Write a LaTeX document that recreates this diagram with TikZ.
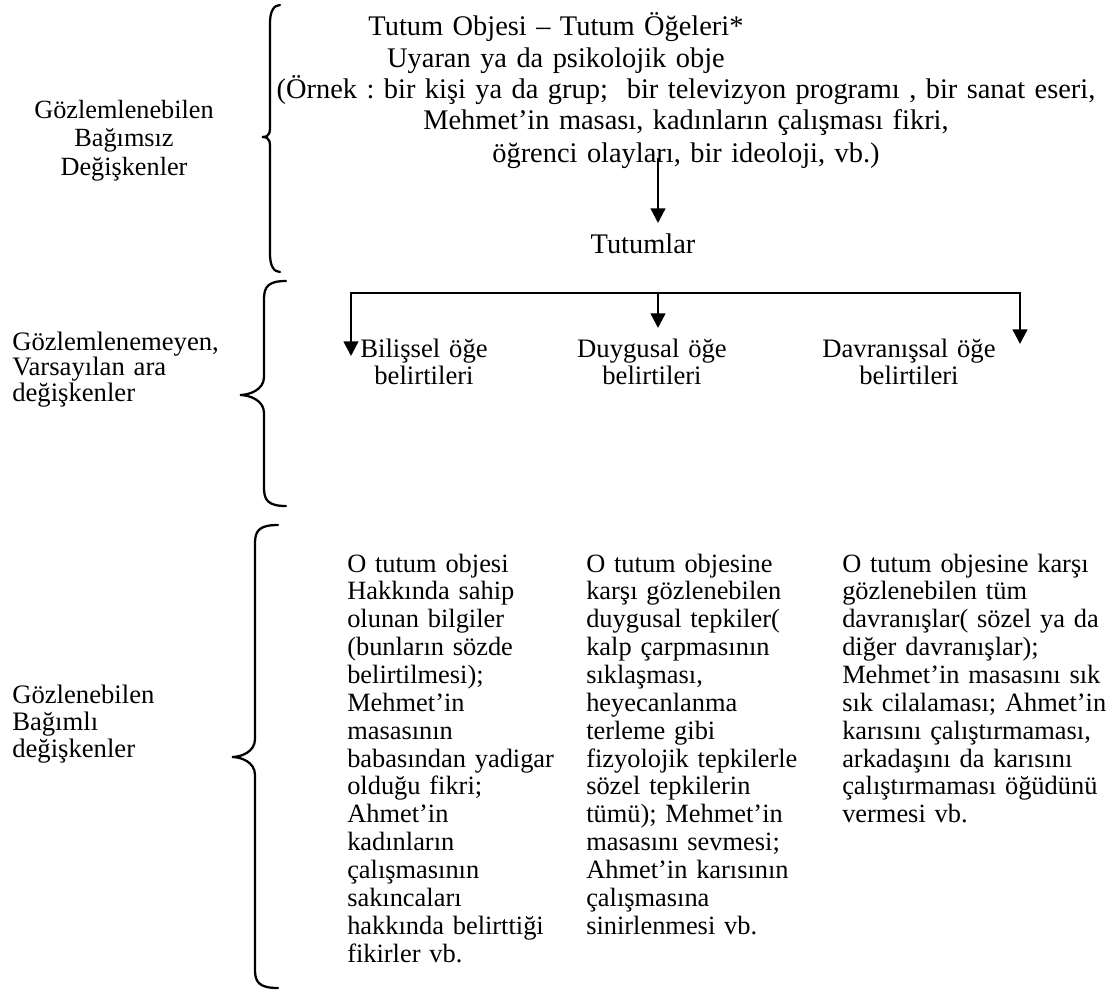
\documentclass[tikz,border=0pt]{standalone}
\usepackage{fontspec}
\setmainfont{Liberation Serif}
\usetikzlibrary{arrows.meta}
\frenchspacing

% curly brace opening to the right: #1 end x, #2 spine x, #3 tip x,
% #4 top y, #5 tip y, #6 bottom y
\newcommand\mybrace[6]{%
  \draw[brace] (#1,#4) .. controls ({#2+4},#4) and (#2,{#4+6}) .. (#2,{#4+18})
    -- (#2,{#5-18}) .. controls (#2,{#5-5}) and ({#3+9},#5) .. (#3,#5)
    .. controls ({#3+9},#5) and (#2,{#5+5}) .. (#2,{#5+18})
    -- (#2,{#6-18}) .. controls (#2,{#6-6}) and ({#2+4},#6) .. (#1,#6);}

\tikzset{
  brace/.style={line width=1.7pt, line cap=round},
  link/.style={line width=1.8pt},
  arr/.style={link, -{Triangle[length=11pt,width=11pt]}},
  big/.style={font=\fontsize{21.3}{24}\selectfont, inner sep=0pt},
  lbl/.style={font=\fontsize{19.7}{21.4}\selectfont, inner sep=0pt},
  comp/.style={font=\fontsize{20}{20.3}\selectfont, inner sep=0pt,
    align=center, text width=160pt, anchor=base},
  body/.style={font=\fontsize{19.8}{20.9}\selectfont, inner sep=0pt,
    align=left, text width=220pt, anchor=base west},
}

\begin{document}
\frenchspacing
\begin{tikzpicture}[x=0.75pt,y=-0.75pt]
\useasboundingbox (0,0) rectangle (1115,992);

% left-hand labels
\node[lbl, align=center, text width=200pt, anchor=base] (l1) at (124,118)
  {Gözlemlenebilen\\Bağımsız\\Değişkenler};
\node[font=\fontsize{20}{19.4}\selectfont, inner sep=0pt, align=left,
  text width=200pt, anchor=base west] (l2) at (12,350)
  {Gözlemlenemeyen,\\Varsayılan ara\\değişkenler};
\node[font=\fontsize{20}{20.6}\selectfont, inner sep=0pt, align=left,
  text width=200pt, anchor=base west] (l3) at (12,703)
  {Gözlenebilen\\Bağımlı\\değişkenler};

% braces
\mybrace{280}{270}{262}{5}{137}{272}
\mybrace{286}{264}{240}{281}{395}{506}
\mybrace{278}{255}{232}{525}{757}{988}

% attitude object
\node[big, align=center, text width=520pt, anchor=base] (obj) at (556,36)
  {Tutum Objesi – Tutum Öğeleri*\\Uyaran ya da psikolojik obje};
\node[big, align=center, text width=720pt, anchor=base] (ex) at (686,98)
  {(Örnek : bir kişi ya da grup;\ \ bir televizyon programı , bir sanat eseri,\\
   Mehmet'in masası, kadınların çalışması fikri,\\
   öğrenci olayları, bir ideoloji, vb.)};
\node[big, anchor=base] (tut) at (643,253) {Tutumlar};

% attitude components
\node[comp] (bil) at (424,357) {Bilişsel öğe\\belirtileri};
\node[comp] (duy) at (652,357) {Duygusal öğe\\belirtileri};
\node[comp] (dav) at (909,357) {Davranışsal öğe\\belirtileri};

% observable responses
\node[body] (c1) at (347,572)
  {O tutum objesi\\Hakkında sahip\\olunan bilgiler\\(bunların sözde\\
   belirtilmesi);\\Mehmet'in\\masasının\\babasından yadigar\\olduğu fikri;\\
   Ahmet'in\\kadınların\\çalışmasının\\sakıncaları\\hakkında belirttiği\\
   fikirler vb.};
\node[body] (c2) at (586,572)
  {O tutum objesine\\karşı gözlenebilen\\duygusal tepkiler(\\kalp çarpmasının\\
   sıklaşması,\\heyecanlanma\\terleme gibi\\fizyolojik tepkilerle\\
   sözel tepkilerin\\tümü); Mehmet'in\\masasını sevmesi;\\Ahmet'in karısının\\
   çalışmasına\\sinirlenmesi vb.};
\node[body] (c3) at (842,572)
  {O tutum objesine karşı\\gözlenebilen tüm\\davranışlar( sözel ya da\\
   diğer davranışlar);\\Mehmet'in masasını sık\\sık cilalaması; Ahmet'in\\
   karısını çalıştırmaması,\\arkadaşını da karısını\\çalıştırmaması öğüdünü\\
   vermesi vb.};

% connectors
\coordinate (a0) at (658,158);
\coordinate (a1) at (658,223);
\draw[arr] (a0) -- (a1);

\coordinate (hl) at (351,293);
\coordinate (hm) at (658,293);
\coordinate (hr) at (1020,293);
\coordinate (tb) at (351,356);
\coordinate (td) at (658,328);
\coordinate (tv) at (1020,344);
\draw[arr] (hm) -- (hl) -- (tb);
\draw[arr] (hm) -- (hr) -- (tv);
\draw[arr] (hm) -- (td);
\end{tikzpicture}
\end{document}
